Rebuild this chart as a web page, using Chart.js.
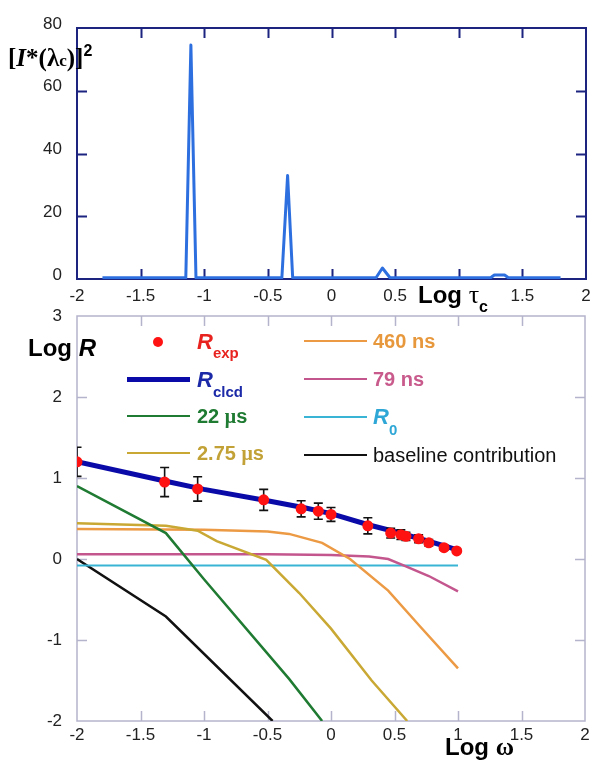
<!DOCTYPE html>
<html>
<head>
<meta charset="utf-8">
<script src="https://cdn.jsdelivr.net/npm/chart.js@4.4.1/dist/chart.umd.min.js"></script>
<style>
body { margin: 0; background: #fff; }
#wrap { position: relative; width: 591px; height: 760px; overflow: hidden; font-family: 'Liberation Sans', Arial, sans-serif; }
canvas { position: absolute; left: 0; }
.t { position: absolute; white-space: nowrap; line-height: 1; font-weight: bold; }
.sw { position: absolute; height: 0; }
.serif { font-family: 'Liberation Serif', 'Times New Roman', serif; }
</style>
</head>
<body>
<div id="wrap">
    <canvas id="topChart" width="591" height="305" style="top:0"></canvas>
    <canvas id="botChart" width="591" height="455" style="top:305px"></canvas>

    <!-- axis titles -->
    <div class="t serif" style="left:8px;top:45px;font-size:25px;color:#000">[<i>I</i>*(λ<span style="font-size:17px">c</span>)]<span style="font-family:'Liberation Sans',Arial;font-size:16px;position:relative;top:-10px">2</span></div>
    <div class="t" style="left:418px;top:282px;font-size:24px;color:#000">Log <span class="serif" style="font-weight:normal;font-size:26px">τ</span><span style="font-size:16px;position:relative;top:9px">c</span></div>
    <div class="t" style="left:28px;top:336px;font-size:24px;color:#000">Log <i>R</i></div>
    <div class="t" style="left:445px;top:734px;font-size:24px;color:#000">Log <span class="serif" style="font-size:25px">ω</span></div>

    <!-- legend -->
    <div id="legend"></div>
</div>

<script>
// ---- ticks ----
const xTickVals = [-2, -1.5, -1, -0.5, 0, 0.5, 1, 1.5, 2];
const topYTickVals = [0, 20, 40, 60, 80];
const botYTickVals = [-2, -1, 0, 1, 2, 3];

// ---- top panel: [I*(λc)]^2 vs Log τc ----
const tauX    = [-1.8, -1.145, -1.105, -1.065, -0.39, -0.345, -0.305, 0.35, 0.40, 0.46, 1.25, 1.28, 1.36, 1.39, 1.8];
const lambdaY = [0.4, 0.4, 74.6, 0.4, 0.4, 33, 0.4, 0.4, 3.5, 0.4, 0.4, 1.3, 1.3, 0.4, 0.4];

// ---- bottom panel: Log R vs Log ω ----
const expX   = [-2, -1.31, -1.05, -0.53, -0.235, -0.1, 0, 0.29, 0.47, 0.55, 0.59, 0.69, 0.77, 0.89, 0.99];
const expY   = [1.20, 0.95, 0.865, 0.73, 0.62, 0.59, 0.55, 0.41, 0.32, 0.30, 0.28, 0.25, 0.20, 0.14, 0.10];
const expErr = [0.18, 0.18, 0.15, 0.13, 0.10, 0.10, 0.085, 0.10, 0.06, 0.06, 0.05, 0.05, 0.04, 0.03, 0.02];

const clcdX = [-2, -1.3, -1, -0.5, -0.2, 0, 0.3, 0.5, 0.7, 0.9, 1];
const clcdY = [1.2, 0.96, 0.86, 0.72, 0.63, 0.56, 0.42, 0.34, 0.25, 0.16, 0.11];

const us22X = [-2, -1.3, -1, -0.33, -0.07];
const us22Y = [0.9, 0.32, -0.25, -1.48, -2];

const us275X = [-2, -1.3, -1.05, -0.9, -0.51, -0.25, 0, 0.32, 0.6];
const us275Y = [0.44, 0.41, 0.35, 0.22, -0.01, -0.42, -0.86, -1.5, -2];

const ns460X = [-2, -1, -0.5, -0.33, -0.07, 0.15, 0.45, 0.7, 1];
const ns460Y = [0.37, 0.36, 0.34, 0.31, 0.2, 0, -0.39, -0.83, -1.35];

const ns79X = [-2, -0.5, 0, 0.3, 0.45, 0.59, 0.77, 1];
const ns79Y = [0.06, 0.06, 0.05, 0.03, 0, -0.09, -0.21, -0.4];

const r0X = [-2, 1];
const r0Y = [-0.08, -0.08];

const baseX = [-2, -1.3, -0.46];
const baseY = [0, -0.71, -2];

const colors = {
    topFrame: '#1c2480',
    topLine: '#2e6fe0',
    botFrame: '#b4b4cc',
    red: '#ff1212',
    navy: '#0a0aa8',
    green: '#1f7a32',
    olive: '#c9a833',
    orange: '#ec9a44',
    pink: '#c4568e',
    cyan: '#3ab4d4',
    black: '#111111'
};

const tickFont = { family: "'Liberation Sans', Arial, sans-serif", size: 17 };

function pts(xs, ys) {
    return xs.map((x, i) => ({ x: x, y: ys[i] }));
}

// frame with inward ticks on all four sides
const framePlugin = {
    id: 'frame',
    beforeDatasetsDraw(chart, args, opts) {
        const { ctx, chartArea: a, scales: { x, y } } = chart;
        ctx.save();
        ctx.strokeStyle = opts.color;
        ctx.lineWidth = opts.width;
        ctx.strokeRect(a.left, a.top, a.right - a.left, a.bottom - a.top);
        ctx.beginPath();
        x.ticks.forEach(t => {
            if (t.value <= x.min || t.value >= x.max) return;
            const px = Math.round(x.getPixelForValue(t.value)) + 0.5;
            ctx.moveTo(px, a.bottom); ctx.lineTo(px, a.bottom - opts.tick);
            ctx.moveTo(px, a.top); ctx.lineTo(px, a.top + opts.tick);
        });
        y.ticks.forEach(t => {
            if (t.value <= y.min || t.value >= y.max) return;
            const py = Math.round(y.getPixelForValue(t.value)) + 0.5;
            ctx.moveTo(a.left, py); ctx.lineTo(a.left + opts.tick, py);
            ctx.moveTo(a.right, py); ctx.lineTo(a.right - opts.tick, py);
        });
        ctx.stroke();
        ctx.restore();
    }
};

// vertical error bars drawn just before the dataset that owns them
const errorBarPlugin = {
    id: 'errorBars',
    beforeDatasetDraw(chart, args) {
        const ds = chart.data.datasets[args.index];
        if (!ds.errors) return;
        const { ctx, chartArea: a, scales: { x, y } } = chart;
        ctx.save();
        ctx.beginPath();
        ctx.rect(a.left, a.top, a.right - a.left, a.bottom - a.top);
        ctx.clip();
        ctx.strokeStyle = '#111';
        ctx.lineWidth = 1.6;
        ctx.beginPath();
        ds.data.forEach((p, i) => {
            const px = x.getPixelForValue(p.x);
            const top = y.getPixelForValue(p.y + ds.errors[i]);
            const bot = y.getPixelForValue(p.y - ds.errors[i]);
            ctx.moveTo(px, top); ctx.lineTo(px, bot);
            ctx.moveTo(px - 4.5, top); ctx.lineTo(px + 4.5, top);
            ctx.moveTo(px - 4.5, bot); ctx.lineTo(px + 4.5, bot);
        });
        ctx.stroke();
        ctx.restore();
    }
};

function xScale(height, pad, hideOne) {
    return {
        type: 'linear', min: -2, max: 2,
        afterBuildTicks: s => { s.ticks = xTickVals.map(v => ({ value: v })); },
        afterFit: s => { s.height = height; s.paddingLeft = 0; s.paddingRight = 0; },
        grid: { display: false, drawTicks: false },
        border: { display: false },
        ticks: {
            padding: pad, font: tickFont, color: '#222', maxRotation: 0, autoSkip: false,
            callback: v => (hideOne && v === 1) ? '' : String(v)
        }
    };
}

function yScale(min, max, vals, labelOffset) {
    return {
        type: 'linear', min: min, max: max,
        afterBuildTicks: s => { s.ticks = vals.map(v => ({ value: v })); },
        afterFit: s => { s.width = 77; s.paddingTop = 0; s.paddingBottom = 0; },
        grid: { display: false, drawTicks: false },
        border: { display: false },
        ticks: { padding: 15, font: tickFont, color: '#222', labelOffset: labelOffset, autoSkip: false, callback: v => String(v) }
    };
}

const baseOptions = {
    responsive: false,
    animation: false,
    events: [],
    plugins: { legend: { display: false }, tooltip: { enabled: false } }
};

new Chart(document.getElementById('topChart'), {
    type: 'scatter',
    data: {
        datasets: [{
            label: 'distribution',
            data: pts(tauX, lambdaY),
            showLine: true,
            borderColor: colors.topLine,
            borderWidth: 3,
            borderJoinStyle: 'round',
            pointRadius: 0
        }]
    },
    options: {
        ...baseOptions,
        layout: { padding: { left: 0, right: 5, top: 28, bottom: 0 } },
        scales: { x: xScale(26, 7, true), y: yScale(0, 80, topYTickVals, -4) },
        plugins: { ...baseOptions.plugins, frame: { color: colors.topFrame, width: 2, tick: 10 } }
    },
    plugins: [framePlugin]
});

function curve(label, xs, ys, color, width, order) {
    return {
        label: label, data: pts(xs, ys), showLine: true,
        borderColor: color, borderWidth: width, pointRadius: 0, order: order
    };
}

const botDatasets = [
    {
        label: 'R_exp', data: pts(expX, expY), errors: expErr, showLine: false,
        pointRadius: 5.5, backgroundColor: colors.red, borderWidth: 0, order: 0
    },
    curve('R_clcd', clcdX, clcdY, colors.navy, 5, 1),
    curve('22 µs', us22X, us22Y, colors.green, 2.5, 2),
    curve('2.75 µs', us275X, us275Y, colors.olive, 2.5, 3),
    curve('460 ns', ns460X, ns460Y, colors.orange, 2.5, 4),
    curve('79 ns', ns79X, ns79Y, colors.pink, 2.5, 5),
    curve('R0', r0X, r0Y, colors.cyan, 2, 6),
    curve('baseline contribution', baseX, baseY, colors.black, 2.5, 7)
];

new Chart(document.getElementById('botChart'), {
    type: 'scatter',
    data: { datasets: botDatasets },
    options: {
        ...baseOptions,
        layout: { padding: { left: 0, right: 6, top: 11, bottom: 0 } },
        scales: { x: xScale(39, 4, false), y: yScale(-2, 3, botYTickVals, 0) },
        plugins: { ...baseOptions.plugins, frame: { color: colors.botFrame, width: 1.5, tick: 10 } }
    },
    plugins: [framePlugin, errorBarPlugin]
});

// legend (two columns, HTML text)
const legendItems = [
    { left: 197, top: 331, sw: 'dot', color: colors.red, text: '#e8231f', html: '<i style="font-size:22px">R</i><span style="font-size:15px;position:relative;top:9px">exp</span>', lineY: 342, swL: 127 },
    { left: 197, top: 369, sw: 5, color: colors.navy, text: '#1c2aa8', html: '<i style="font-size:22px">R</i><span style="font-size:15px;position:relative;top:10px">clcd</span>', lineY: 379, swL: 127 },
    { left: 197, top: 406, sw: 2.5, color: colors.green, text: '#1f7a32', html: '22 <span class="serif">μ</span>s', lineY: 416, swL: 127 },
    { left: 197, top: 443, sw: 2.5, color: colors.olive, text: '#c2a236', html: '2.75 <span class="serif">μ</span>s', lineY: 453, swL: 127 },
    { left: 373, top: 331, sw: 2, color: colors.orange, text: '#e8983c', html: '460 ns', lineY: 341, swL: 304 },
    { left: 373, top: 369, sw: 2, color: colors.pink, text: '#c85a8c', html: '79 ns', lineY: 379, swL: 304 },
    { left: 373, top: 406, sw: 2, color: colors.cyan, text: '#2fa7d6', html: '<i style="font-size:22px">R</i><span style="font-size:15px;position:relative;top:11px">0</span>', lineY: 417, swL: 304 },
    { left: 373, top: 445, sw: 2.5, color: colors.black, text: '#111', html: '<span style="font-weight:normal">baseline contribution</span>', lineY: 455, swL: 304 }
];

const legend = document.getElementById('legend');
legendItems.forEach(it => {
    const sw = document.createElement('div');
    sw.className = 'sw';
    if (it.sw === 'dot') {
        sw.style.cssText = `left:${158 - 5}px;top:${it.lineY - 5}px;width:10px;height:10px;border-radius:5px;background:${it.color};`;
    } else {
        sw.style.cssText = `left:${it.swL}px;top:${it.lineY - it.sw / 2}px;width:63px;border-top:${it.sw}px solid ${it.color};`;
    }
    legend.appendChild(sw);
    const t = document.createElement('div');
    t.className = 't';
    t.style.cssText = `left:${it.left}px;top:${it.top}px;font-size:20px;color:${it.text};`;
    t.innerHTML = it.html;
    legend.appendChild(t);
});
</script>
</body>
</html>
